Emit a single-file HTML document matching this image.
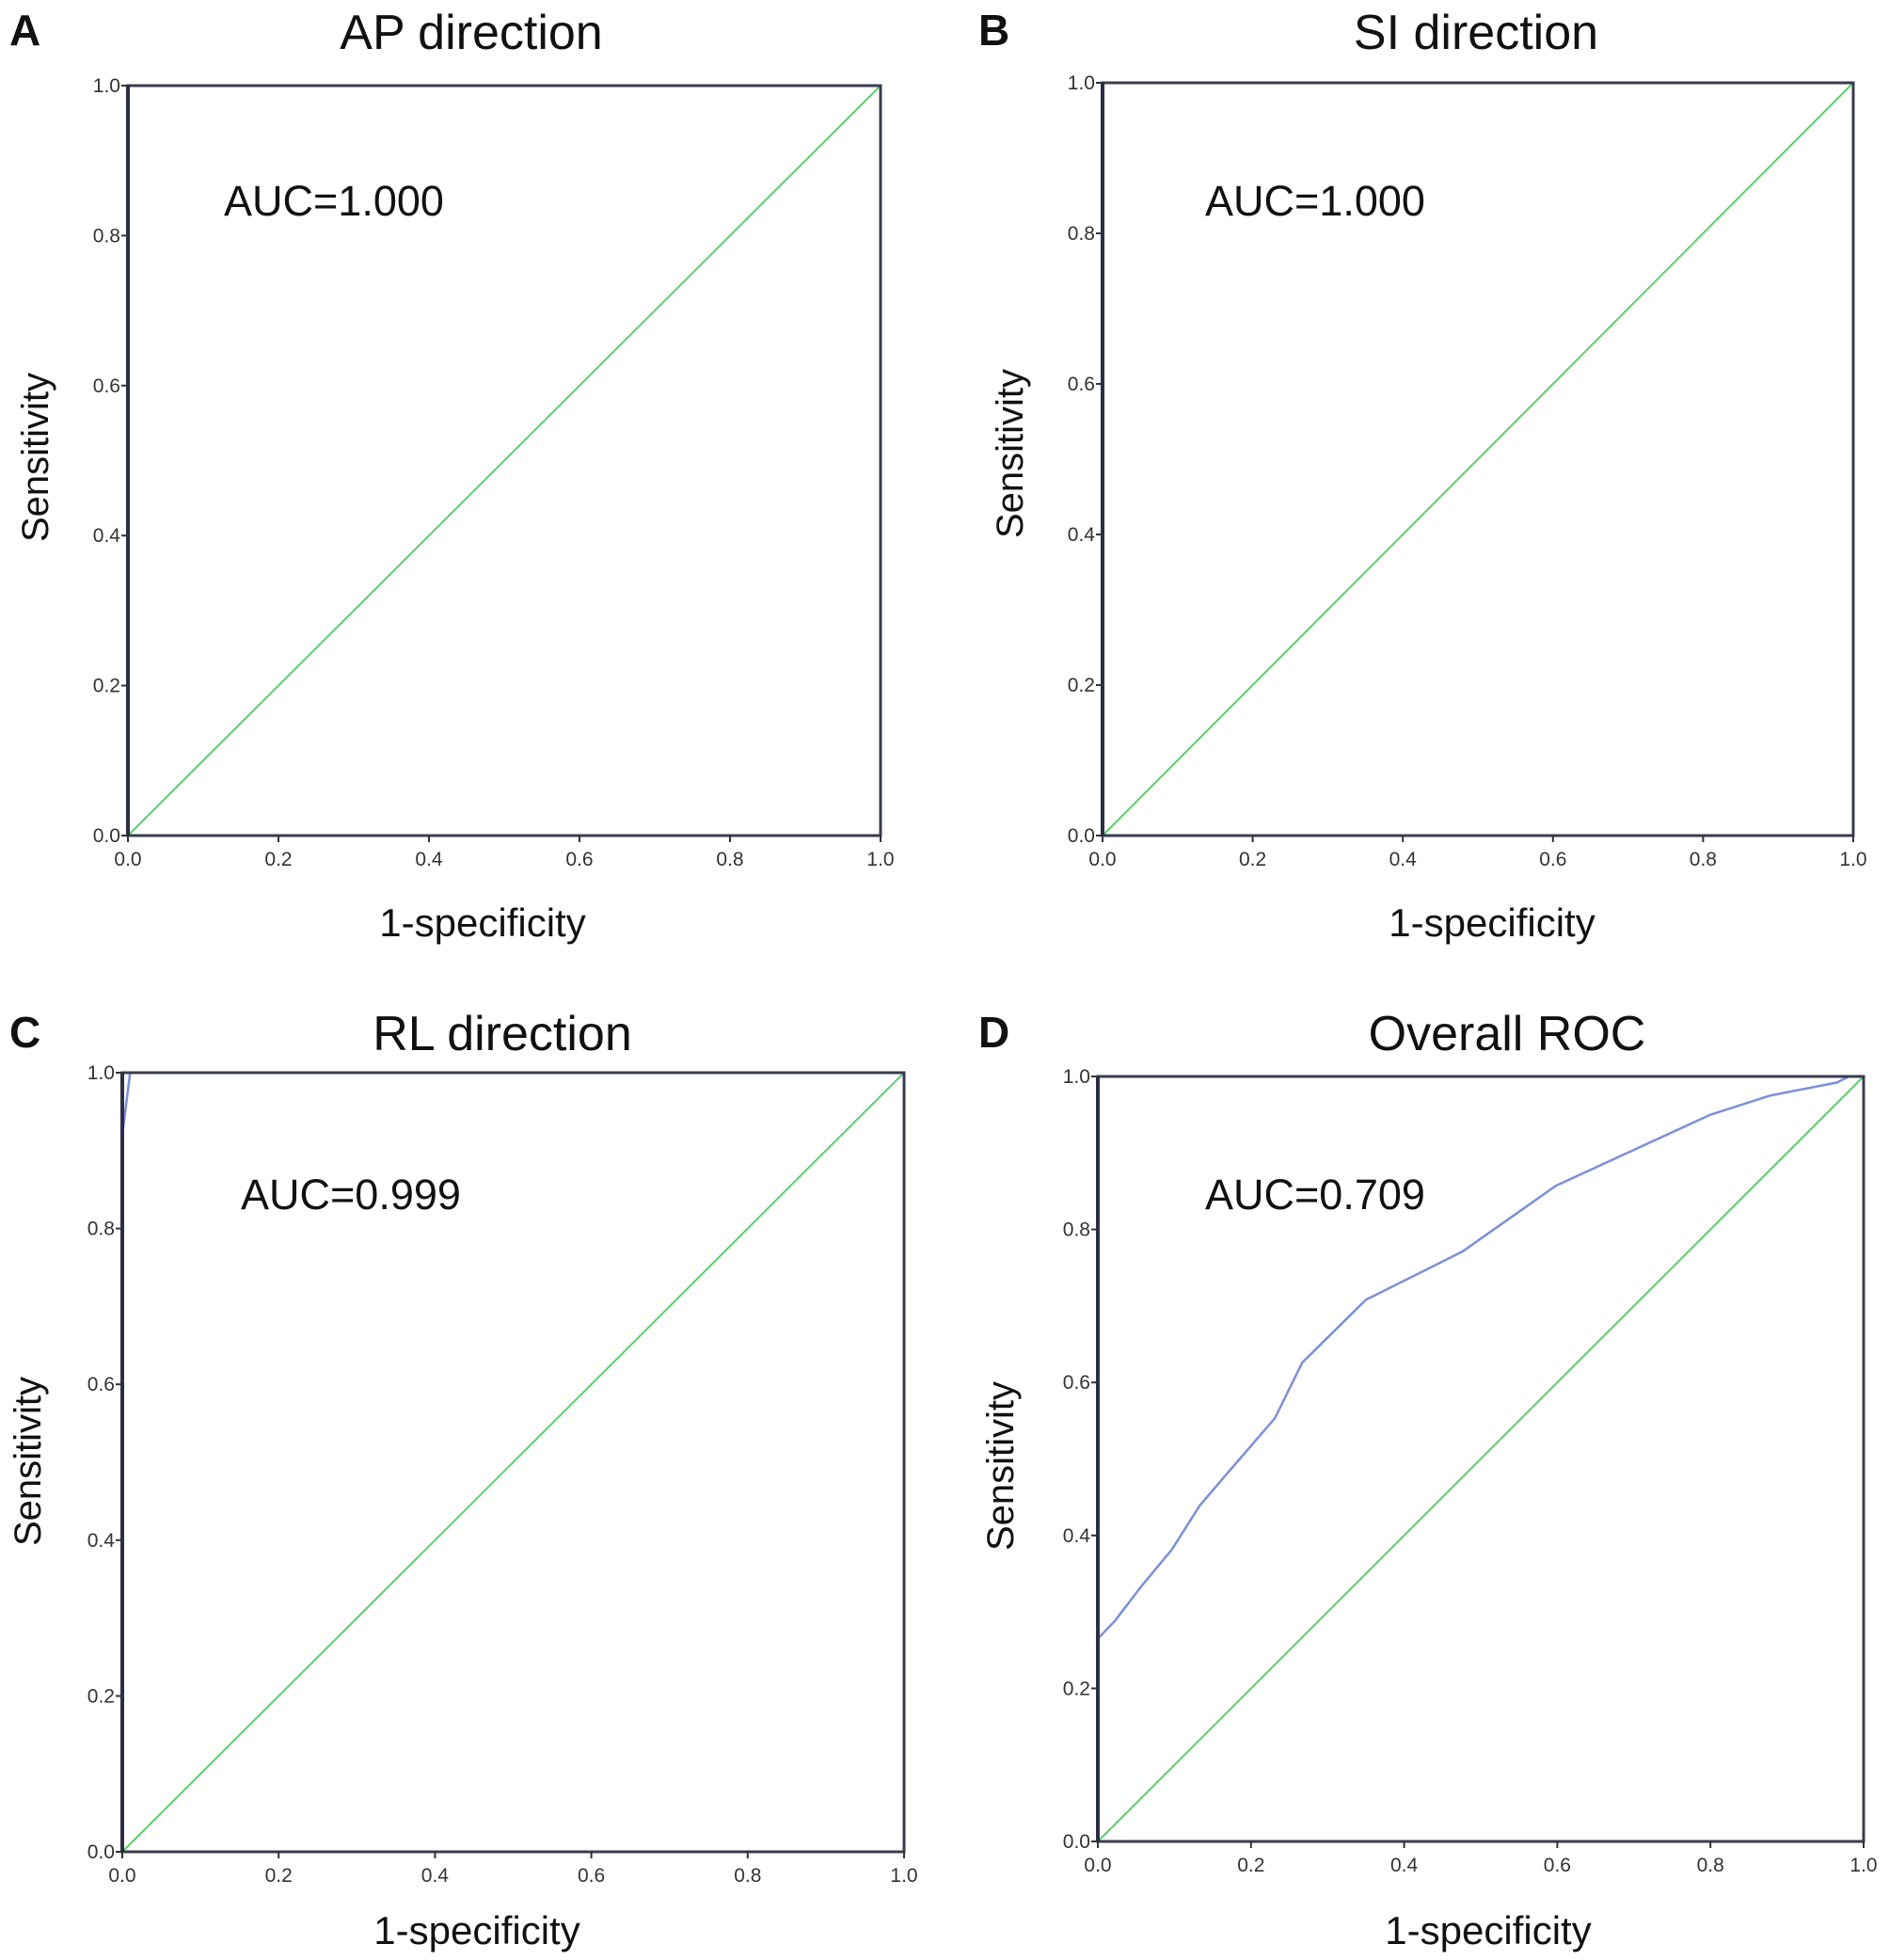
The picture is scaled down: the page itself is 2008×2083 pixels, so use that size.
<!DOCTYPE html>
<html><head><meta charset="utf-8"><style>
html,body{margin:0;padding:0;background:#fff;}
svg{display:block;font-family:"Liberation Sans",Arial,sans-serif;}
</style></head><body>
<svg id="fig" width="2008" height="2083" viewBox="0 0 2008 2083" xmlns="http://www.w3.org/2000/svg"></svg>
<script>
const ticks = [0, 0.2, 0.4, 0.6, 0.8, 1.0];
const tickLabels = ["0.0","0.2","0.4","0.6","0.8","1.0"];
const refX = [0, 1];
const refY = [0, 1];
const rocCx = [0, 0.01, 1];
const rocCy = [0.92, 1.0, 1.0];
const rocDx = [0, 0.022, 0.058, 0.097, 0.133, 0.168, 0.231, 0.267, 0.35, 0.476, 0.598, 0.8, 0.878, 0.965, 0.981, 1.0];
const rocDy = [0.265, 0.288, 0.335, 0.382, 0.439, 0.48, 0.553, 0.626, 0.708, 0.771, 0.857, 0.95, 0.975, 0.992, 1.0, 1.0];

const panels = [
 {id:"a", letter:"A", title:"AP direction", auc:"AUC=1.000", L:136, R:936, T:91, B:888, lx:10, ly:48, tx:501, ty:52, ax:238, ay:229, ylx:37, yly:486, xlx:513, xly:995, rx:null, ry:null},
 {id:"b", letter:"B", title:"SI direction", auc:"AUC=1.000", L:1172, R:1970, T:88, B:888, lx:1040, ly:48, tx:1569, ty:52, ax:1281, ay:229, ylx:1073, yly:482, xlx:1586, xly:995, rx:null, ry:null},
 {id:"c", letter:"C", title:"RL direction", auc:"AUC=0.999", L:130, R:961, T:1140, B:1968, lx:10, ly:1113, tx:534, ty:1116, ax:256, ay:1285, ylx:29, yly:1553, xlx:507, xly:2066, rx:rocCx, ry:rocCy},
 {id:"d", letter:"D", title:"Overall ROC", auc:"AUC=0.709", L:1167, R:1981, T:1144, B:1957, lx:1040, ly:1113, tx:1602, ty:1116, ax:1281, ay:1285, ylx:1063, yly:1558, xlx:1582, xly:2066, rx:rocDx, ry:rocDy}
];
const NS="http://www.w3.org/2000/svg";
const svg=document.getElementById("fig");
function mk(tag, attrs, parent){const e=document.createElementNS(NS,tag);for(const k in attrs)e.setAttribute(k,attrs[k]);(parent||svg).appendChild(e);return e;}
panels.forEach(p=>{
  const g=mk("g",{});
  
  
  const sx=v=>p.L+v*(p.R-p.L), sy=v=>p.B-v*(p.B-p.T);
  let t=mk("text",{x:p.lx,y:p.ly,"font-size":46,"font-weight":"bold",fill:"#111"},g);t.textContent=p.letter;
  
  
  t=mk("text",{x:p.tx,y:p.ty,"font-size":52,"text-anchor":"middle",fill:"#111"},g);t.textContent=p.title;
  
  
  const rl=mk("polyline",{points:refX.map((x,i)=>sx(x)+","+sy(refY[i])).join(" "),fill:"none",stroke:"#5ccf6c","stroke-width":2},g);
  
  
  if(p.rx){
    const c=mk("polyline",{points:p.rx.map((x,i)=>sx(x)+","+sy(p.ry[i])).join(" "),fill:"none",stroke:"#7b8fdc","stroke-width":2.5,"stroke-linejoin":"round"},g);
    
    
  }
  const fr=mk("rect",{x:p.L,y:p.T,width:p.R-p.L,height:p.B-p.T,fill:"none",stroke:"#3a3c50","stroke-width":3},g);
  
  
  mk("line",{x1:p.L,y1:p.T,x2:p.L,y2:p.B,stroke:"#2c2e48","stroke-width":4},g);
  ticks.forEach((v,i)=>{
    mk("line",{x1:p.L-7,y1:sy(v),x2:p.L,y2:sy(v),stroke:"#333","stroke-width":2},g);
    mk("line",{x1:sx(v),y1:p.B,x2:sx(v),y2:p.B+7,stroke:"#333","stroke-width":2},g);
    let yt=mk("text",{x:p.L-8,y:sy(v)+7,"font-size":21,"text-anchor":"end",fill:"#333"},g);yt.textContent=tickLabels[i];
    
    
    let xt=mk("text",{x:sx(v),y:p.B+32,"font-size":21,"text-anchor":"middle",fill:"#333"},g);xt.textContent=tickLabels[i];
    
    
  });
  t=mk("text",{x:p.ax,y:p.ay,"font-size":45,fill:"#111"},g);t.textContent=p.auc;
  
  
  t=mk("text",{x:p.xlx,y:p.xly,"font-size":42,"text-anchor":"middle",fill:"#111"},g);t.textContent="1-specificity";
  
  
  t=mk("text",{x:0,y:0,"font-size":40,"text-anchor":"middle",fill:"#111",transform:`translate(${p.ylx+14},${p.yly}) rotate(-90)`},g);t.textContent="Sensitivity";
  
  
});
</script>
</body></html>
